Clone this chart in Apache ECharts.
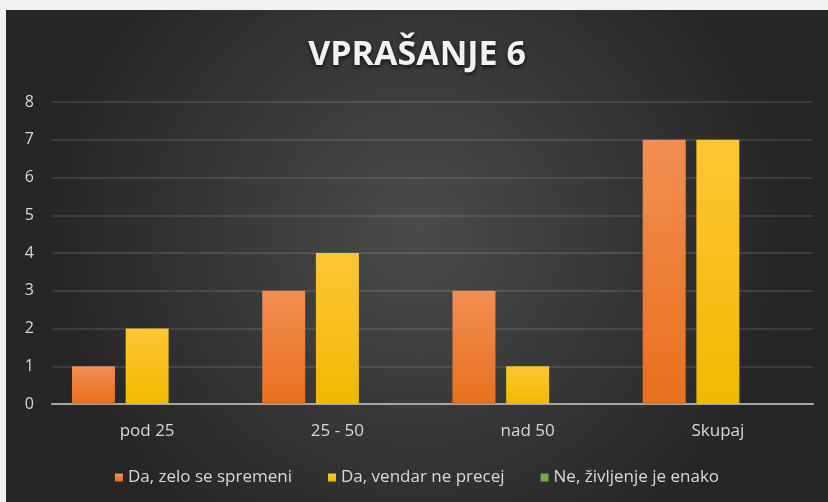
<!DOCTYPE html>
<html>
<head>
<meta charset="utf-8">
<script src="https://cdn.jsdelivr.net/npm/echarts@6/dist/echarts.min.js"></script>
<style>
  html, body { margin: 0; padding: 0; background: #f2f2f2; }
  #chart { position: absolute; left: 6px; top: 10px; width: 822px; height: 492px; }
</style>
</head>
<body>
<div id="chart"></div>
<script>
var categories = ['pod 25', '25 - 50', 'nad 50', 'Skupaj']
var seriesNames = ['Da, zelo se spremeni', 'Da, vendar ne precej', 'Ne, življenje je enako']
var zeloValues = [1, 3, 3, 7]
var vendarValues = [2, 4, 1, 7]
var enakoValues = [0, 0, 0, 0]

var chart = echarts.init(document.getElementById('chart'))

function grad(top, bottom) {
    return new echarts.graphic.LinearGradient(0, 0, 0, 1, [
        {offset: 0, color: top},
        {offset: 1, color: bottom}
    ])
}

var option = {
    backgroundColor: new echarts.graphic.RadialGradient(0.5, 0.45, 0.75, [
        {offset: 0, color: '#4b4b4b'},
        {offset: 1, color: '#262626'}
    ]),
    title: {
        text: 'VPRAŠANJE 6',
        left: 'center',
        top: 23,
        textStyle: {
            color: '#f2f2f2',
            fontFamily: 'Open Sans',
            fontWeight: 'bold',
            fontSize: 34,
            textShadowColor: 'rgba(0,0,0,0.8)',
            textShadowBlur: 4,
            textShadowOffsetY: 2
        }
    },
    legend: {
        bottom: 11,
        left: 'center',
        itemWidth: 8,
        itemHeight: 8,
        itemGap: 36,
        icon: 'rect',
        textStyle: {color: '#d9d9d9', fontSize: 17, fontFamily: 'Open Sans'},
        data: seriesNames
    },
    grid: {left: 46, right: 15, top: 92, bottom: 98, containLabel: false},
    xAxis: {
        type: 'category',
        data: categories,
        axisLine: {lineStyle: {color: '#a6a6a6', width: 2}},
        axisTick: {show: false},
        axisLabel: {color: '#d9d9d9', fontSize: 17, fontFamily: 'Open Sans', margin: 19}
    },
    yAxis: {
        type: 'value',
        min: 0,
        max: 8,
        interval: 1,
        axisLine: {show: false},
        axisTick: {show: false},
        axisLabel: {color: '#d9d9d9', fontSize: 16, fontFamily: 'Open Sans', margin: 18},
        splitLine: {lineStyle: {color: 'rgba(255,255,255,0.14)', width: 1.5}}
    },
    series: [
        {
            name: seriesNames[0],
            type: 'bar',
            data: zeloValues,
            barGap: '25%',
            barCategoryGap: '21%',
            itemStyle: {color: grad('#f28e52', '#e8701d')}
        },
        {
            name: seriesNames[1],
            type: 'bar',
            data: vendarValues,
            itemStyle: {color: grad('#ffc534', '#f0b900')}
        },
        {
            name: seriesNames[2],
            type: 'bar',
            data: enakoValues,
            itemStyle: {color: '#70ad47'}
        }
    ]
}
chart.setOption(option)
</script>
</body>
</html>
